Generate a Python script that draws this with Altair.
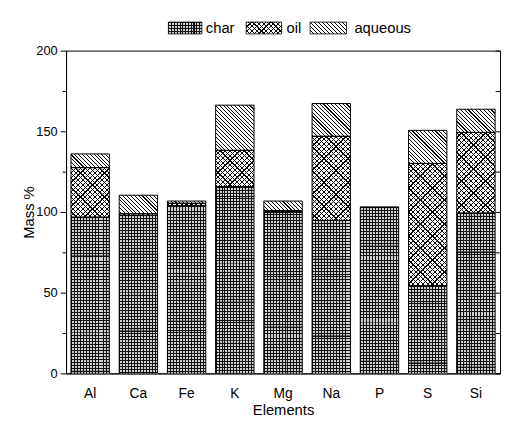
import math
import altair as alt
import pandas as pd

# ---- data ----
elements = ["Al", "Ca", "Fe", "K", "Mg", "Na", "P", "S", "Si"]
char = [96.8, 97.9, 104.0, 115.7, 100.3, 94.8, 102.9, 54.3, 99.3]
oil = [30.7, 1.0, 1.4, 22.5, 0.6, 52.1, 0.0, 75.8, 50.0]
aqueous = [8.5, 11.5, 1.4, 28.0, 5.9, 20.3, 0.0, 20.5, 14.4]
series = ["char", "oil", "aqueous"]
y_major = [0, 50, 100, 150, 200]
y_minor = [25, 75, 125, 175]
y_max = 200

# ---- layout / style ----
W, H = 441, 328
P_IN, P_OUT = 0.2, 0.08
step = math.floor(W / (len(elements) - P_IN + 2 * P_OUT))
BW = round(step * (1 - P_IN))          # bar width in px (39)
T_PX = BW                              # hatch tiles are BW x BW px squares
N_TILES = 8
TILE_U = T_PX * y_max / H              # tile height in data units
FONT = "Liberation Sans"
CLEAR = "rgba(255,255,255,0)"
CELL = "#cfcfcf"                       # tone of the small cells of the char grid

df = pd.DataFrame({"el": elements, "char": char, "oil": oil, "aq": aqueous})
df["char_top"] = df["char"]
df["oil_top"] = df["char"] + df["oil"]
df["aq_top"] = df["oil_top"] + df["aq"]
df["zero"] = 0.0
# each segment is painted as a fixed-height column ending at its top (clipped at 0);
# lower segments are painted over upper ones, so only the visible part remains
for c in ["char_top", "oil_top", "aq_top"]:
    df[c.replace("_top", "_lo")] = df[c] - N_TILES * TILE_U

tile_rows = []
for key, topcol in [("aq", "aq_top"), ("oil", "oil_top"), ("char", "char_top")]:
    for k in range(N_TILES):
        for el, top in zip(df["el"], df[topcol]):
            tile_rows.append({"el": el, "s": key,
                              "lo": top - (k + 1) * TILE_U, "hi": top - k * TILE_U})
tiles = pd.DataFrame(tile_rows)


def stripes(w, h, normal, period, frac, fg="#000000", bg="#ffffff"):
    nx, ny = normal
    n = (nx * nx + ny * ny) ** 0.5
    nx, ny = nx / n, ny / n
    corners = [(0, 0), (w, 0), (0, h), (w, h)]
    proj = [nx * x + ny * y for x, y in corners]
    mn, mx = min(proj), max(proj)
    L = mx - mn
    x0, y0 = corners[proj.index(mn)]
    u0, v0 = x0 / w, y0 / h
    a, b = nx * w / L, ny * h / L
    d = a * a + b * b
    dx, dy = a / d, b / d
    N = max(1, round(L / period))
    stops = []
    for k in range(N):
        o0 = k / N
        o1 = (k + frac) / N
        o2 = (k + 1) / N
        stops += [
            {"offset": round(o0, 6), "color": fg},
            {"offset": round(o1, 6), "color": fg},
            {"offset": round(o1, 6), "color": bg},
            {"offset": round(o2, 6), "color": bg},
        ]
    return {"gradient": "linear", "x1": u0, "y1": v0, "x2": u0 + dx, "y2": v0 + dy, "stops": stops}


D2 = 2 ** 0.5
OIL_PH = BW / 8      # horizontal period of the cross-hatch (px)
AQ_PH = BW / 10      # horizontal period of the diagonal hatch (px)
GRID_F = 1 / 3       # char grid: 1px lines, 2px gaps

grad = {
    "char_v": stripes(BW, N_TILES * T_PX, (1, 0), 3.0, GRID_F, fg="#111111", bg=CELL),
    "char_h": stripes(BW, T_PX, (0, 1), 3.0, GRID_F, fg="#111111", bg=CLEAR),
    "oil_a": stripes(BW, T_PX, (-1, 1), OIL_PH / D2, 0.25, bg=CLEAR),
    "oil_b": stripes(BW, T_PX, (1, 1), OIL_PH / D2, 0.25, bg=CLEAR),
    "aq": stripes(BW, T_PX, (-1, 1), AQ_PH / D2, 0.28, bg=CLEAR),
}

xscale = alt.Scale(domain=elements, paddingInner=P_IN, paddingOuter=P_OUT, round=True)
yscale = alt.Scale(domain=[0, y_max], nice=False, zero=False)

x_axis = alt.Axis(title="Elements", labelAngle=0, ticks=False, tickSize=0, labelPadding=13,
                  labelFontSize=14, titleFontSize=15, titleFontWeight="normal", titlePadding=3,
                  domainColor="black", labelColor="black", titleColor="black", orient="bottom")
y_axis_major = alt.Axis(title="Mass %", values=y_major, tickSize=6, labelPadding=3, labelFontSize=13,
                        titleFontSize=15, titleFontWeight="normal", titlePadding=-1, grid=False,
                        domainColor="black", tickColor="black", labelColor="black",
                        titleColor="black", orient="left")
y_axis_minor = alt.Axis(title=None, values=y_minor, tickSize=4, labels=False, domain=False,
                        grid=False, tickColor="black", orient="left")
y_axis_right = alt.Axis(title=None, values=y_major + y_minor, tickSize=5, labels=False,
                        domain=False, grid=False, tickColor="black", orient="right", offset=-5)


def bars(data, lo, hi, xaxis=None, yaxis=None, **mark):
    return alt.Chart(data).mark_bar(clip=True, **mark).encode(
        x=alt.X("el:N", sort=elements, scale=xscale, axis=xaxis),
        y=alt.Y(f"{lo}:Q", scale=yscale, axis=yaxis),
        y2=alt.Y2(f"{hi}:Q"),
    )


def tile_layer(key, g):
    return bars(tiles[tiles["s"] == key], "lo", "hi", fill=grad[g], strokeWidth=0)


layers = [
    # aqueous
    bars(df, "aq_lo", "aq_top", fill="white", strokeWidth=0),
    tile_layer("aq", "aq"),
    # oil
    bars(df, "oil_lo", "oil_top", fill="white", strokeWidth=0),
    tile_layer("oil", "oil_a"),
    tile_layer("oil", "oil_b"),
    # char
    bars(df, "char_lo", "char_top", fill=grad["char_v"], strokeWidth=0),
    tile_layer("char", "char_h"),
    # outlines of the three stacked segments (carry the axes)
    bars(df, "oil_top", "aq_top", x_axis, y_axis_major, fillOpacity=0, stroke="black", strokeWidth=1),
    bars(df, "char_top", "oil_top", None, y_axis_minor, fillOpacity=0, stroke="black", strokeWidth=1),
    bars(df, "zero", "char_top", None, y_axis_right, fillOpacity=0, stroke="black", strokeWidth=1),
]

# ---- legend (boxes with the same hatches, labels from the series list) ----
LH = 12
leg_pos = {"char": (104, 34, 142), "oil": (183, 36, 224), "aqueous": (248, 37, 293)}
for s in series:
    x0, lw, tx = leg_pos[s]
    if s == "char":
        fl = [stripes(lw, LH, (1, 0), 2.8, 0.38, fg="#111111", bg=CELL),
              stripes(lw, LH, (0, 1), 2.8, 0.38, fg="#111111", bg=CLEAR)]
    elif s == "oil":
        fl = ["white", stripes(lw, LH, (-1, 1), 3.4, 0.25, bg=CLEAR),
              stripes(lw, LH, (1, 1), 3.4, 0.25, bg=CLEAR)]
    else:
        fl = ["white", stripes(lw, LH, (-1, 1), 2.9, 0.28, bg=CLEAR)]
    sd = pd.DataFrame({"series": [s]})
    for i, f in enumerate(fl):
        last = i == len(fl) - 1
        layers.append(
            alt.Chart(sd).mark_rect(fill=f, stroke="black", strokeWidth=0.8 if last else 0).encode(
                x=alt.value(x0), x2=alt.value(x0 + lw), y=alt.value(-29), y2=alt.value(-29 + LH)
            )
        )
    layers.append(
        alt.Chart(sd).mark_text(align="left", baseline="middle", fontSize=15, color="black").encode(
            text="series:N", x=alt.value(tx), y=alt.value(-23)
        )
    )

chart = (
    alt.layer(*layers)
    .resolve_axis(x="independent", y="independent")
    .properties(width=W, height=H, autosize="none",
                padding={"left": 59, "top": 40, "right": 2, "bottom": 41})
    .configure(font=FONT)
    .configure_view(stroke="black", strokeWidth=1)
)

chart.save("out.html", embed_options={"renderer": "svg", "actions": False})
